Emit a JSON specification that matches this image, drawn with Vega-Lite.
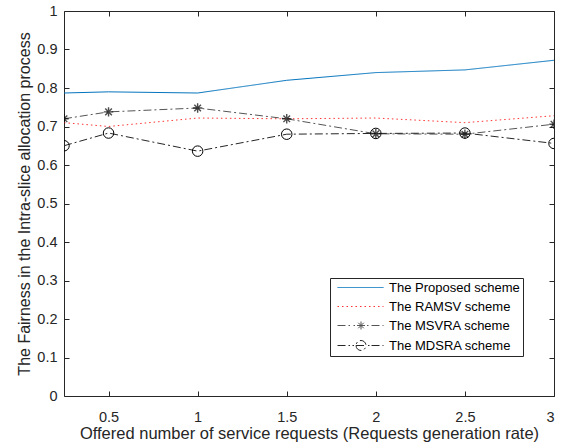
{
  "$schema": "https://vega.github.io/schema/vega-lite/v6.json",
  "width": 490,
  "height": 385,
  "autosize": {"type": "none"},
  "padding": {"left": 64, "top": 11, "right": 11, "bottom": 47},
  "background": "white",
  "config": {
    "font": "Liberation Sans",
    "view": {"stroke": "#262626", "strokeWidth": 1},
    "axis": {"domain": false, "grid": false, "tickColor": "#262626", "labelColor": "#262626", "titleColor": "#262626", "labelFont": "Liberation Sans", "titleFont": "Liberation Sans", "labelFontSize": 14.5, "titleFontSize": 15, "titleFontWeight": "normal", "tickSize": -5, "format": "~g"}
  },
  "data": {"values": [
    {"x": 0.25, "y": 0.787, "s": "The Proposed scheme"},
    {"x": 0.5, "y": 0.790, "s": "The Proposed scheme"},
    {"x": 1, "y": 0.787, "s": "The Proposed scheme"},
    {"x": 1.5, "y": 0.820, "s": "The Proposed scheme"},
    {"x": 2, "y": 0.840, "s": "The Proposed scheme"},
    {"x": 2.5, "y": 0.847, "s": "The Proposed scheme"},
    {"x": 3, "y": 0.872, "s": "The Proposed scheme"},
    {"x": 0.25, "y": 0.710, "s": "The RAMSV scheme"},
    {"x": 0.5, "y": 0.700, "s": "The RAMSV scheme"},
    {"x": 1, "y": 0.722, "s": "The RAMSV scheme"},
    {"x": 1.5, "y": 0.720, "s": "The RAMSV scheme"},
    {"x": 2, "y": 0.722, "s": "The RAMSV scheme"},
    {"x": 2.5, "y": 0.710, "s": "The RAMSV scheme"},
    {"x": 3, "y": 0.728, "s": "The RAMSV scheme"},
    {"x": 0.25, "y": 0.720, "s": "The MSVRA scheme"},
    {"x": 0.5, "y": 0.738, "s": "The MSVRA scheme"},
    {"x": 1, "y": 0.748, "s": "The MSVRA scheme"},
    {"x": 1.5, "y": 0.720, "s": "The MSVRA scheme"},
    {"x": 2, "y": 0.681, "s": "The MSVRA scheme"},
    {"x": 2.5, "y": 0.680, "s": "The MSVRA scheme"},
    {"x": 3, "y": 0.706, "s": "The MSVRA scheme"},
    {"x": 0.25, "y": 0.650, "s": "The MDSRA scheme"},
    {"x": 0.5, "y": 0.683, "s": "The MDSRA scheme"},
    {"x": 1, "y": 0.636, "s": "The MDSRA scheme"},
    {"x": 1.5, "y": 0.680, "s": "The MDSRA scheme"},
    {"x": 2, "y": 0.682, "s": "The MDSRA scheme"},
    {"x": 2.5, "y": 0.683, "s": "The MDSRA scheme"},
    {"x": 3, "y": 0.656, "s": "The MDSRA scheme"}
  ]},
  "resolve": {"axis": {"x": "independent", "y": "independent"}},
  "layer": [
    {
      "mark": {"type": "line", "strokeWidth": 1, "clip": true},
      "encoding": {
        "x": {"field": "x", "type": "quantitative", "scale": {"domain": [0.25, 3], "nice": false, "zero": false},
              "axis": {"values": [0.5, 1, 1.5, 2, 2.5, 3], "title": "Offered number of service requests (Requests generation rate)", "labelPadding": 19, "titlePadding": 2, "titleFontSize": 16.5}},
        "y": {"field": "y", "type": "quantitative", "scale": {"domain": [0, 1], "nice": false},
              "axis": {"values": [0, 0.1, 0.2, 0.3, 0.4, 0.5, 0.6, 0.7, 0.8, 0.9, 1], "title": "The Fairness in the Intra-slice allocation process", "labelPadding": 12, "titlePadding": 4, "titleFontSize": 16}},
        "color": {"field": "s", "type": "nominal",
                  "scale": {"domain": ["The Proposed scheme", "The RAMSV scheme", "The MSVRA scheme", "The MDSRA scheme"], "range": ["#0072BD", "#FF3333", "#555555", "#262626"]},
                  "legend": {"title": null, "orient": "none", "legendX": 266, "legendY": 267, "strokeColor": "#262626", "fillColor": "white", "padding": 3, "labelFontSize": 13, "labelColor": "#000", "symbolSize": 100, "symbolStrokeWidth": 1, "labelOffset": 43, "rowPadding": 5,
                    "encode": {"symbols": {"update": {
                      "shape": {"signal": "datum.value === 'The MSVRA scheme' ? 'M-0.4,0H2.1M2.8,0H3.1M3.5,0H5.1M4.3,-0.8V0.8M3.75,-0.55L4.85,0.55M3.75,0.55L4.85,-0.55M5.5,0H5.8M6.4,0H8.8' : (datum.value === 'The MDSRA scheme' ? 'M-0.4,0H2.1M2.6,0H2.9M3.3,0A1,1 0 1,0 5.3,0A1,1 0 1,0 3.3,0M3.3,0H5.3M5.7,0H6M6.4,0H8.8' : 'M-0.4,0H8.8')"},
                      "strokeDash": {"signal": "datum.value === 'The RAMSV scheme' ? [1.5,3] : [1,0]"}
                    }}}}},
        "strokeDash": {"field": "s", "type": "nominal",
                  "scale": {"domain": ["The Proposed scheme", "The RAMSV scheme", "The MSVRA scheme", "The MDSRA scheme"], "range": [[1, 0], [1.5, 3], [8, 3, 2, 3], [8, 3, 2, 3]]},
                  "legend": null}
      }
    },
    {
      "transform": [{"filter": "datum.s === 'The MSVRA scheme'"}],
      "mark": {"type": "point", "shape": "M-1,0L1,0M0,-1L0,1M-0.7,-0.7L0.7,0.7M-0.7,0.7L0.7,-0.7", "size": 90, "stroke": "#000", "filled": false, "strokeWidth": 1.4, "clip": true},
      "encoding": {
        "x": {"field": "x", "type": "quantitative", "axis": {"orient": "top", "labels": false, "title": null, "values": [0.5, 1, 1.5, 2, 2.5, 3]}},
        "y": {"field": "y", "type": "quantitative", "axis": {"orient": "right", "labels": false, "title": null, "values": [0, 0.1, 0.2, 0.3, 0.4, 0.5, 0.6, 0.7, 0.8, 0.9, 1]}}
      }
    },
    {
      "transform": [{"filter": "datum.s === 'The MDSRA scheme'"}],
      "mark": {"type": "point", "shape": "circle", "size": 110, "stroke": "#000", "filled": false, "strokeWidth": 1, "clip": true, "opacity": 1},
      "encoding": {
        "x": {"field": "x", "type": "quantitative", "axis": null},
        "y": {"field": "y", "type": "quantitative", "axis": null}
      }
    }
  ]
}
